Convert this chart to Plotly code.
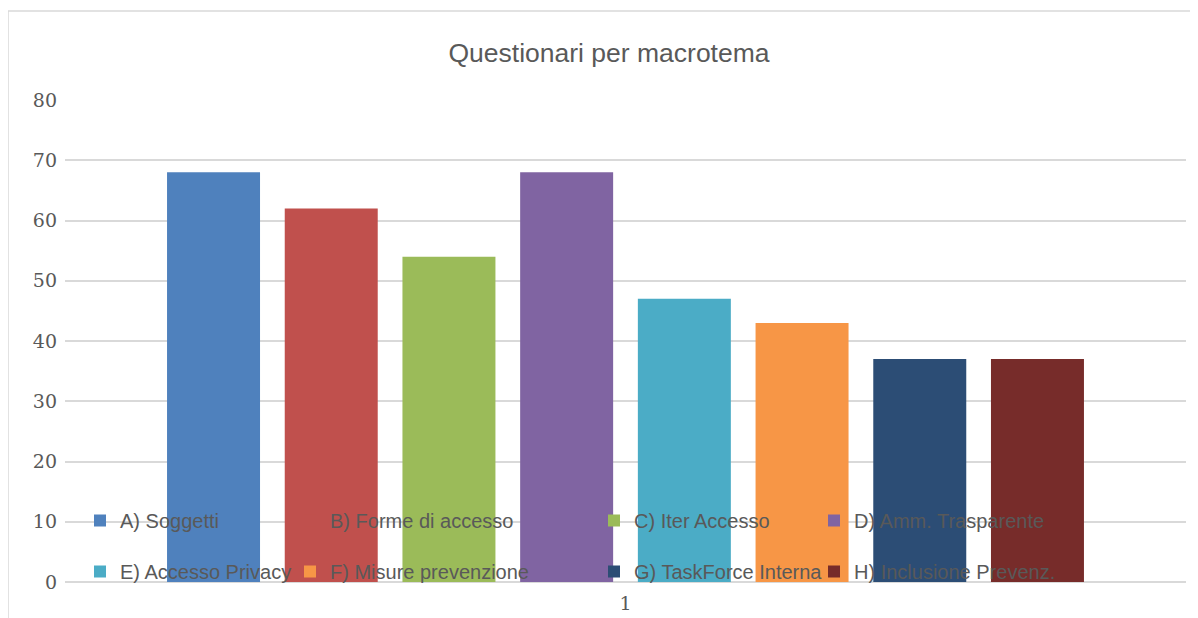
import plotly.graph_objects as go

# data
category = ["1"]
series_names = [
    "A) Soggetti",
    "B) Forme di accesso",
    "C) Iter Accesso",
    "D) Amm. Trasparente",
    "E) Accesso Privacy",
    "F) Misure prevenzione",
    "G) TaskForce Interna",
    "H) Inclusione Prevenz.",
]
series_values = [68, 62, 54, 68, 47, 43, 37, 37]
series_colors = [
    "#4F81BD", "#C0504D", "#9BBB59", "#8064A2",
    "#4BACC6", "#F79646", "#2C4D75", "#772C2A",
]
y_ticks = [0, 10, 20, 30, 40, 50, 60, 70, 80]

W, H = 1198, 618
OFF = 8   # the page body margin shifts the figure by 8px
# plot area in figure pixels (page positions minus the body margin)
PL, PR, PT, PB = 65 - OFF, 1186 - OFF, 100 - OFF, 582 - OFF
TEXT = "#595959"
GRID = "#D9D9D9"

def px_x(x):
    return (x - OFF - PL) / (PR - PL)

def px_y(y):
    return (PB - (y - OFF)) / (PB - PT)

# legend laid out like Excel: 4 columns x 2 rows, drawn over the bars
legend_ids = ["legend", "legend2", "legend3", "legend4"]
legend_text_x = [120, 330, 634, 854]   # where each column's labels start (page px)

fig = go.Figure()
for i, (name, val, col) in enumerate(zip(series_names, series_values, series_colors)):
    fig.add_trace(go.Bar(
        x=category, y=[val], name=name,
        marker=dict(color=col, line=dict(width=0)),
        legend=legend_ids[i % 4],
        legendgroup=name,
    ))

def legend_cfg(text_x):
    return dict(
        orientation="v",
        x=px_x(text_x - 40), xanchor="left",
        y=px_y(501), yanchor="top",
        bgcolor="rgba(0,0,0,0)",
        borderwidth=0,
        font=dict(family="Liberation Sans, Arial, sans-serif", size=20, color=TEXT),
        tracegroupgap=22,
        itemclick=False,
    )

layout_legends = {lid: legend_cfg(x) for lid, x in zip(legend_ids, legend_text_x)}

fig.update_layout(
    width=W, height=H,
    margin=dict(l=PL, r=W - PR, t=PT, b=H - PB, autoexpand=False),
    paper_bgcolor="white",
    plot_bgcolor="white",
    barmode="group",
    bargap=0.16,
    bargroupgap=0.21,
    showlegend=True,
    title=dict(
        text="Questionari per macrotema",
        x=(609 - OFF) / W, xanchor="center",
        xref="container", yref="container",
        y=1 - (53 - OFF) / H, yanchor="middle",
        font=dict(family="Liberation Sans, Arial, sans-serif", size=26.5, color=TEXT),
    ),
    xaxis=dict(
        showgrid=False, showline=False, zeroline=False, ticks="",
        automargin=False, ticklabelstandoff=8,
        tickfont=dict(family="DejaVu Serif, serif", size=19, color=TEXT),
    ),
    yaxis=dict(
        range=[0, 80], tickvals=y_ticks,
        showgrid=True, gridcolor=GRID, gridwidth=1.5,
        zeroline=True, zerolinecolor=GRID, zerolinewidth=1.5,
        showline=False, ticks="", automargin=False, ticklabelstandoff=7,
        tickfont=dict(family="DejaVu Serif, serif", size=19, color=TEXT),
    ),
    **layout_legends,
)

# thin grey chart-area border like the Excel frame
fig.add_shape(
    type="rect", xref="paper", yref="paper",
    x0=px_x(8), x1=px_x(1220),
    y0=px_y(640), y1=px_y(11),
    line=dict(color=GRID, width=1.5), fillcolor="rgba(0,0,0,0)",
    layer="below",
)

fig.write_html("out.html")
